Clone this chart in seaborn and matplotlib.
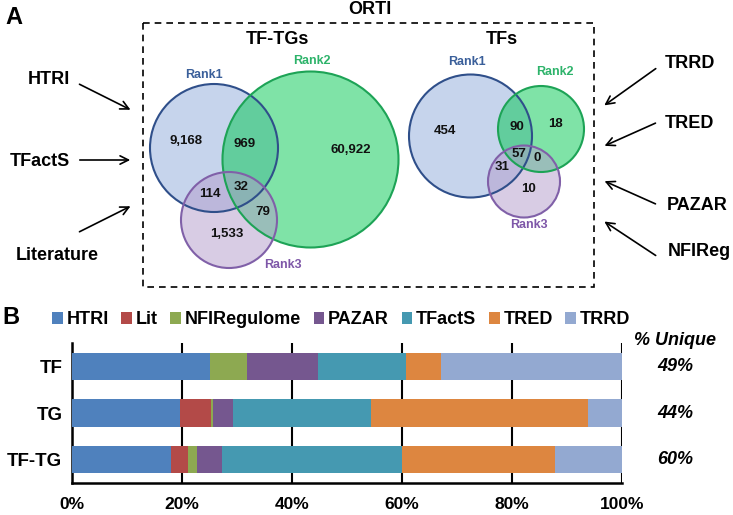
import numpy as np
import pandas as pd
import matplotlib
matplotlib.use('Agg')
import matplotlib.pyplot as plt
import matplotlib.transforms as mtransforms
from matplotlib.patches import Circle, Patch, Rectangle
import seaborn as sns

# ---- data ----
sources = ['HTRI', 'Lit', 'NFIRegulome', 'PAZAR', 'TFactS', 'TRED', 'TRRD']
source_colors = ['#4F81BD', '#B34A48', '#8DA951', '#75578F', '#4599B1', '#DD8640', '#93A9D1']
categories = ['TF', 'TG', 'TF-TG']
tf_share = [25.1, 0.0, 6.8, 12.9, 15.9, 6.4, 32.9]
tg_share = [19.6, 5.6, 0.4, 3.7, 25.0, 39.6, 6.1]
tftg_share = [18.0, 3.0, 1.8, 4.4, 32.8, 27.8, 12.2]
unique_pct = ['49%', '44%', '60%']

# Venn counts (TF-TG pairs and TFs)
tftg_counts = {'r1': '9,168', 'r12': '969', 'r2': '60,922', 'r123': '32',
               'r13': '114', 'r23': '79', 'r3': '1,533'}
tf_counts = {'r1': '454', 'r12': '90', 'r2': '18', 'r123': '57',
             'r23': '0', 'r13': '31', 'r3': '10'}
left_dbs = ['HTRI', 'TFactS', 'Literature']
right_dbs = ['TRRD', 'TRED', 'PAZAR', 'NFIReg']

# ---- style ----
sns.set_style('white')
plt.rcParams['font.family'] = ['Liberation Sans', 'DejaVu Sans']
plt.rcParams['font.weight'] = 'bold'
plt.rcParams['text.color'] = 'black'
plt.rcParams['xtick.color'] = 'black'
plt.rcParams['ytick.color'] = 'black'

fig = plt.figure(figsize=(7.33, 5.15), dpi=100)

# ---- panel B: stacked bars ----
ax = fig.add_axes([72 / 733, 1 - 483 / 515, 550 / 733, 140 / 515])
shares = pd.DataFrame([tf_share, tg_share, tftg_share], index=categories, columns=sources)
cum = shares.cumsum(axis=1)
long_df = cum.reset_index().melt(id_vars='index', var_name='source', value_name='cum')
long_df = long_df.rename(columns={'index': 'category'})

# draw from the last cumulative to the first so earlier segments sit on top
for src, col in reversed(list(zip(sources, source_colors))):
    sub = long_df[long_df['source'] == src]
    sns.barplot(data=sub, x='cum', y='category', order=categories, color=col,
                orient='h', width=0.58, saturation=1, linewidth=0, ax=ax, zorder=3)

ax.set_xlim(0, 100)
ax.set_ylim(2.5, -0.5)
ax.set_xlabel('')
ax.set_ylabel('')
ax.set_xticks(np.arange(0, 101, 20))
ax.set_xticklabels([f'{v}%' for v in range(0, 101, 20)], fontsize=12.5, fontweight='bold')
ax.set_yticks(range(len(categories)))
ax.set_yticklabels(categories, fontsize=13.5, fontweight='bold')
ax.set_yticks([-0.5, 0.5, 1.5, 2.5], minor=True)
ax.tick_params(axis='y', which='major', length=0, pad=7)
ax.tick_params(axis='y', which='minor', length=7, width=1.5, direction='out', color='black')
ax.tick_params(axis='x', length=7, width=1.5, direction='out', color='black', pad=3)
ax.xaxis.grid(True, color='black', lw=1.5, zorder=0)
ax.set_axisbelow(True)
for side in ['top', 'right']:
    ax.spines[side].set_visible(False)
for side in ['left', 'bottom']:
    ax.spines[side].set_color('black')
    ax.spines[side].set_linewidth(1.8)

trans = mtransforms.blended_transform_factory(ax.transAxes, ax.transData)
ax.text(1.096, -0.56, '% Unique', transform=trans, ha='center', va='center',
        fontsize=13, fontweight='bold', style='italic', clip_on=False)
for i, pct in enumerate(unique_pct):
    ax.text(1.096, i, pct, transform=trans, ha='center', va='center',
            fontsize=13, fontweight='bold', style='italic', clip_on=False)

handles = [Patch(facecolor=c, edgecolor='none') for c in source_colors]
fig.legend(handles, sources, loc='center', bbox_to_anchor=(341 / 733, 1 - 320 / 515),
           ncol=7, frameon=False, handlelength=0.6, handleheight=0.6,
           handletextpad=0.2, columnspacing=0.7, borderpad=0, borderaxespad=0,
           prop={'weight': 'bold', 'size': 13})

# ---- panel A: Venn diagrams (pixel coordinates) ----
top = fig.add_axes([0, 0, 1, 1])
top.set_xlim(0, 733)
top.set_ylim(515, 0)
top.axis('off')

fills = ['#8EAADB', '#00C850', '#B39BCB']
edges = ['#2F4F8A', '#1DA356', '#8060A8']
label_cols = ['#3A5F9A', '#2DB36A', '#7E57A8']


def venn(circles, label_pos, counts, count_pos):
    for (cx, cy, r), fc in zip(circles, fills):
        top.add_patch(Circle((cx, cy), r, facecolor=fc, edgecolor='none', alpha=0.5))
    for (cx, cy, r), ec in zip(circles, edges):
        top.add_patch(Circle((cx, cy), r, fill=False, edgecolor=ec, lw=1.5))
    for k, (lx, ly) in enumerate(label_pos):
        top.text(lx, ly, f'Rank{k + 1}', color=label_cols[k], fontsize=9,
                 fontweight='bold', ha='center', va='center')
    for key, (tx, ty) in count_pos.items():
        top.text(tx, ty, counts[key], fontsize=9.5, fontweight='bold',
                 ha='center', va='center', color='#111111')


venn([(214, 148, 64), (310.5, 159.5, 88), (229, 220, 48)],
     [(204, 75), (312, 61), (283, 265)], tftg_counts,
     {'r1': (186, 141), 'r12': (245, 144), 'r2': (351, 150), 'r123': (241, 187),
      'r13': (210, 194), 'r23': (263, 212), 'r3': (227, 234)})
venn([(470.5, 136, 61.5), (541, 129, 43), (524, 181.5, 36)],
     [(467, 62), (555, 72), (529, 225)], tf_counts,
     {'r1': (445, 131), 'r12': (517, 127), 'r2': (555, 124), 'r123': (519, 154),
      'r23': (537, 158), 'r13': (502, 167), 'r3': (528, 189)})

top.add_patch(Rectangle((143, 23), 451, 264, fill=False, edgecolor='black',
                        lw=1.2, linestyle=(0, (4, 3))))
top.text(370, 10, 'ORTI', fontsize=13, fontweight='bold', ha='center', va='center')
top.text(277, 39, 'TF-TGs', fontsize=13, fontweight='bold', ha='center', va='center')
top.text(502, 39, 'TFs', fontsize=13, fontweight='bold', ha='center', va='center')
top.text(14, 18, 'A', fontsize=17, fontweight='bold', ha='center', va='center')
top.text(11, 317, 'B', fontsize=17, fontweight='bold', ha='center', va='center')

arrow = dict(arrowstyle='->,head_length=0.6,head_width=0.3', lw=1.2, color='black')
left_pos = [((49, 80), (77, 83), (133, 111)),
            ((40, 161), (77, 160), (133, 160)),
            ((57, 256), (77, 233), (133, 205))]
for name, (tp, tail, head) in zip(left_dbs, left_pos):
    top.text(tp[0], tp[1], name, fontsize=13, fontweight='bold', ha='center', va='center')
    top.annotate('', xy=head, xytext=tail, arrowprops=arrow)

right_pos = [((665, 64), (658, 67), (602, 107)),
             ((665, 123), (658, 122), (602, 147)),
             ((667, 206), (658, 205), (602, 180)),
             ((668, 251), (658, 257), (602, 220))]
for name, (tp, tail, head) in zip(right_dbs, right_pos):
    top.text(tp[0], tp[1], name, fontsize=13, fontweight='bold', ha='left', va='center')
    top.annotate('', xy=head, xytext=tail, arrowprops=arrow)

fig.savefig('out.png', dpi=100)
